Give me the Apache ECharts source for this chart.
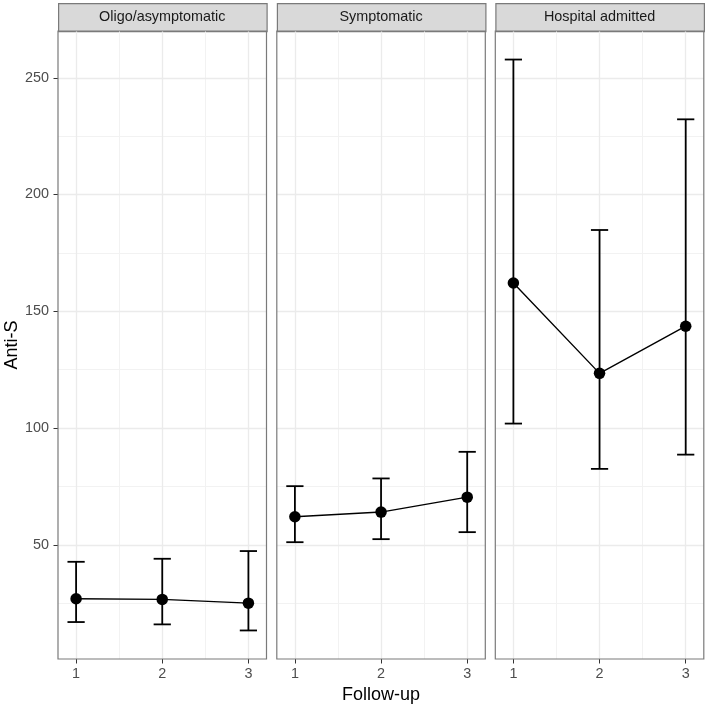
<!DOCTYPE html>
<html><head><meta charset="utf-8">
<script src="https://cdn.jsdelivr.net/npm/echarts@6/dist/echarts.min.js"></script>
<style>html,body{margin:0;padding:0;background:#fff}#c{width:707px;height:710px}</style>
</head><body><div id="c"></div>
<script>
// ---- data ----
const panels = ['Oligo/asymptomatic', 'Symptomatic', 'Hospital admitted'];
const followUp = [1, 2, 3];
const meanOligo = [26.9, 26.6, 25.0];
const lowOligo = [16.9, 15.9, 13.3];
const highOligo = [42.7, 44.0, 47.3];
const meanSympt = [62.0, 64.0, 70.4];
const lowSympt = [51.1, 52.4, 55.4];
const highSympt = [75.1, 78.4, 89.8];
const meanHosp = [162.1, 123.4, 143.6];
const lowHosp = [101.9, 82.5, 88.6];
const highHosp = [257.8, 184.8, 232.2];
const yTicks = [50, 100, 150, 200, 250];
const yMinorTicks = [25, 75, 125, 175, 225];
const xTicks = [1, 2, 3];
const xMinorTicks = [1.5, 2.5];

const means = [meanOligo, meanSympt, meanHosp];
const lows = [lowOligo, lowSympt, lowHosp];
const highs = [highOligo, highSympt, highHosp];

// ---- scales (ggplot-like 5% expansion) ----
const capHalf = 0.1;
const allLo = Math.min(...lows.flat()), allHi = Math.max(...highs.flat());
const yPad = 0.05 * (allHi - allLo);
const yMin = allLo - yPad, yMax = allHi + yPad;
const xLo = followUp[0] - capHalf, xHi = followUp[followUp.length - 1] + capHalf;
const xPad = 0.05 * (xHi - xLo);
const xMin = xLo - xPad, xMax = xHi + xPad;

// ---- layout ----
const gridLefts = [58, 276.8, 495.3];
const gridW = 208.5;
const gridTop = 31, gridH = 628;
const stripTop = 3, stripH = 28;
const font = 'Liberation Sans, Arial, sans-serif';
const borderCol = '#7A7A7A';

const grids = [], xAxes = [], yAxes = [], series = [], graphics = [];
panels.forEach((name, i) => {
  grids.push({left: gridLefts[i], top: gridTop, width: gridW, height: gridH,
    show: true, borderColor: borderCol, borderWidth: 1.2, backgroundColor: 'transparent', z: 3});
  xAxes.push({type: 'value', gridIndex: i, min: xMin, max: xMax,
    axisLine: {show: false}, splitLine: {show: false},
    axisTick: {show: true, customValues: xTicks, length: 4.5, lineStyle: {color: '#333333', width: 1}},
    axisLabel: {show: true, customValues: xTicks, color: '#4D4D4D', fontSize: 14.4, fontFamily: font, margin: 8},
    name: i === 1 ? 'Follow-up' : '', nameLocation: 'middle', nameGap: 26,
    nameTextStyle: {color: '#000', fontSize: 18, fontFamily: font}});
  yAxes.push({type: 'value', gridIndex: i, min: yMin, max: yMax,
    axisLine: {show: false}, splitLine: {show: false},
    axisTick: {show: i === 0, customValues: yTicks, length: 4.5, lineStyle: {color: '#333333', width: 1}},
    axisLabel: {show: i === 0, customValues: yTicks, color: '#4D4D4D', fontSize: 14.4, fontFamily: font, margin: 9},
    name: i === 0 ? 'Anti-S' : '', nameLocation: 'middle', nameGap: 36, nameRotate: 90,
    nameTextStyle: {color: '#000', fontSize: 18, fontFamily: font}});
  // gridlines
  const ml = [];
  yMinorTicks.forEach(v => ml.push({yAxis: v, lineStyle: {color: '#F2F2F2', width: 1, type: 'solid'}}));
  xMinorTicks.forEach(v => ml.push({xAxis: v, lineStyle: {color: '#F2F2F2', width: 1, type: 'solid'}}));
  yTicks.forEach(v => ml.push({yAxis: v, lineStyle: {color: '#EBEBEB', width: 1.3, type: 'solid'}}));
  xTicks.forEach(v => ml.push({xAxis: v, lineStyle: {color: '#EBEBEB', width: 1.3, type: 'solid'}}));
  series.push({type: 'line', xAxisIndex: i, yAxisIndex: i, data: [], silent: true, z: 1,
    markLine: {silent: true, symbol: ['none', 'none'], label: {show: false}, z: 1, animation: false, data: ml}});
  // error bars
  series.push({type: 'custom', xAxisIndex: i, yAxisIndex: i, z: 2,
    data: followUp.map((x, k) => [x, lows[i][k], highs[i][k]]),
    renderItem: function (params, api) {
      const x = api.value(0), lo = api.value(1), hi = api.value(2);
      const t = api.coord([x, hi]), b = api.coord([x, lo]);
      const tl = api.coord([x - capHalf, hi]), tr = api.coord([x + capHalf, hi]);
      const bl = api.coord([x - capHalf, lo]), br = api.coord([x + capHalf, lo]);
      const st = {stroke: '#000', lineWidth: 1.8, fill: null};
      return {type: 'group', children: [
        {type: 'line', shape: {x1: t[0], y1: t[1], x2: b[0], y2: b[1]}, style: st},
        {type: 'line', shape: {x1: tl[0], y1: tl[1], x2: tr[0], y2: tr[1]}, style: st},
        {type: 'line', shape: {x1: bl[0], y1: bl[1], x2: br[0], y2: br[1]}, style: st}
      ]};
    }});
  // means
  series.push({type: 'line', xAxisIndex: i, yAxisIndex: i, z: 4,
    data: followUp.map((x, k) => [x, means[i][k]]),
    symbol: 'circle', symbolSize: 11.5, showSymbol: true,
    itemStyle: {color: '#000'}, lineStyle: {color: '#000', width: 1.4}});
  // strip
  graphics.push({type: 'rect', left: gridLefts[i], top: stripTop,
    shape: {x: 0, y: 0, width: gridW, height: stripH},
    style: {fill: '#D9D9D9', stroke: borderCol, lineWidth: 1.2}});
  graphics.push({type: 'text', x: gridLefts[i] + gridW / 2, y: stripTop + stripH / 2,
    style: {text: name, fill: '#1A1A1A', font: '14.4px ' + font, textAlign: 'center', textVerticalAlign: 'middle'}});
});

const chart = echarts.init(document.getElementById('c'), null, {renderer: 'canvas'});
chart.setOption({
  animation: false,
  backgroundColor: '#fff',
  grid: grids, xAxis: xAxes, yAxis: yAxes, series: series, graphic: graphics
});
</script>
</body></html>
